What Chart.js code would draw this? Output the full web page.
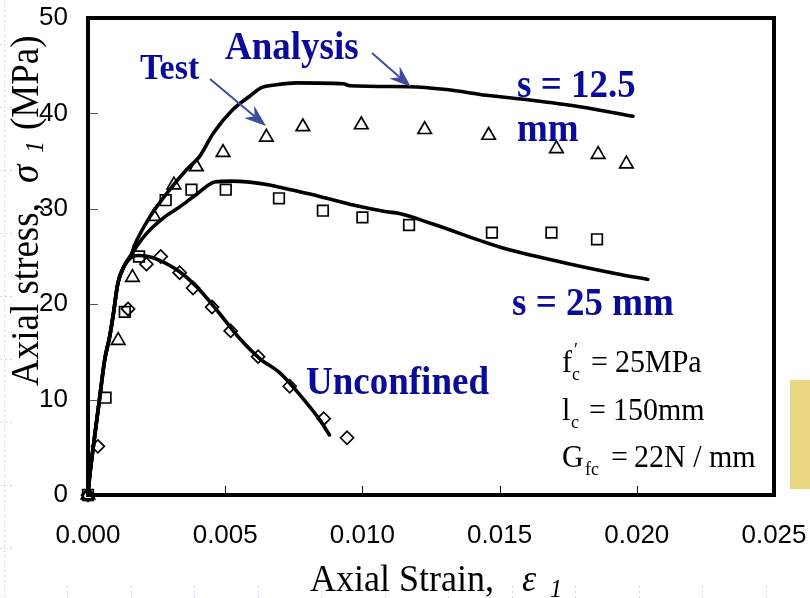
<!DOCTYPE html>
<html>
<head>
<meta charset="utf-8">
<script src="https://cdn.jsdelivr.net/npm/chart.js@4.4.1/dist/chart.umd.min.js"></script>
<style>
  html, body { margin: 0; padding: 0; background: #ffffff; }
  #wrap { position: relative; width: 810px; height: 598px; }
</style>
</head>
<body>
<div id="wrap"><canvas id="c" width="810" height="598"></canvas></div>
<script>
// Axis ticks
const strainTicks = [0, 0.005, 0.010, 0.015, 0.020, 0.025];
const stressTicks = [0, 10, 20, 30, 40, 50];

// Test results, s = 12.5 mm (triangles)
const testStrain125 = [0, 0.0011, 0.00162, 0.0024, 0.00313, 0.00395, 0.00492, 0.0065, 0.00783, 0.00996, 0.01227, 0.0146, 0.01707, 0.01859, 0.01962];
const testStress125 = [0, 16.2, 22.8, 29.2, 32.5, 34.4, 35.9, 37.5, 38.6, 38.8, 38.3, 37.7, 36.3, 35.7, 34.7];

// Test results, s = 25 mm (squares)
const testStrain25 = [0, 0.00064, 0.00134, 0.00186, 0.00283, 0.00377, 0.00502, 0.00696, 0.00856, 0.0100, 0.0117, 0.01472, 0.01689, 0.01855];
const testStress25 = [0, 10.2, 19.2, 25.0, 30.9, 32.0, 32.0, 31.1, 29.8, 29.1, 28.3, 27.5, 27.5, 26.8];

// Test results, unconfined (diamonds)
const testStrainUnc = [0, 0.00036, 0.00146, 0.00213, 0.00265, 0.00334, 0.00383, 0.00452, 0.0052, 0.0062, 0.00735, 0.00859, 0.00944];
const testStressUnc = [0, 5.1, 19.5, 24.2, 25.0, 23.3, 21.7, 19.7, 17.2, 14.5, 11.4, 8.0, 6.0];

// Analysis, s = 12.5 mm
const anaStrain125 = [0, 0.00006, 0.00024, 0.00043, 0.00061, 0.00079, 0.00091, 0.00109, 0.00134, 0.00158, 0.0017, 0.00231, 0.00292, 0.00359, 0.00407, 0.00456, 0.00528, 0.00589, 0.00632, 0.00687, 0.0076, 0.0093, 0.00954, 0.01172, 0.01306, 0.01452, 0.0161, 0.01792, 0.01986];
const anaStress125 = [0, 1.9, 6.1, 10.3, 14.2, 16.6, 18.7, 22.2, 24.1, 25.2, 26.2, 29.4, 31.8, 34.1, 35.5, 37.9, 40.4, 41.8, 42.7, 43.0, 43.2, 43.1, 42.9, 42.8, 42.5, 41.9, 41.4, 40.7, 39.7];

// Analysis, s = 25 mm
const anaStrain25 = [0, 0.00006, 0.00024, 0.00043, 0.00061, 0.00079, 0.00091, 0.00109, 0.00134, 0.00158, 0.00176, 0.00213, 0.00273, 0.00334, 0.00395, 0.00462, 0.0052, 0.00589, 0.00662, 0.00723, 0.00844, 0.00966, 0.01087, 0.01135, 0.01257, 0.015, 0.01743, 0.01926, 0.0204];
const anaStress25 = [0, 1.9, 6.1, 10.3, 14.2, 16.6, 18.7, 22.2, 24.1, 25.2, 26.0, 27.4, 29.0, 30.2, 31.5, 32.8, 32.9, 32.8, 32.5, 32.1, 31.3, 30.4, 29.7, 29.5, 28.4, 26.0, 24.3, 23.2, 22.6];

// Analysis, unconfined
const anaStrainUnc = [0, 0.00006, 0.00024, 0.00043, 0.00061, 0.00079, 0.00091, 0.00109, 0.00134, 0.0018, 0.0022, 0.00261, 0.00334, 0.00407, 0.0048, 0.00553, 0.00626, 0.00699, 0.00772, 0.00844, 0.0088];
const anaStressUnc = [0, 1.9, 6.1, 10.3, 14.2, 16.6, 18.7, 22.2, 24.1, 25.1, 25.0, 24.6, 23.4, 21.5, 19.0, 16.4, 14.3, 12.8, 10.5, 7.9, 6.3];

const pts = (xs, ys) => xs.map((x, i) => ({ x: x, y: ys[i] }));

const SERIF = '"Liberation Serif", "Times New Roman", serif';
const SANS = '"Liberation Sans", Arial, sans-serif';
const NAVY = '#0b0b99';
const ARROW = '#3f4c9c';
const SY = 1.08; // slight vertical stretch of all hand-placed text

function txt(ctx, s, x, y, font, color, align) {
  ctx.save();
  ctx.translate(x, y);
  ctx.scale(1, SY);
  ctx.font = font;
  ctx.fillStyle = color;
  ctx.textAlign = align || 'left';
  ctx.textBaseline = 'alphabetic';
  ctx.fillText(s, 0, 0);
  ctx.restore();
}

function arrow(ctx, x0, y0, x1, y1) {
  const dx = x1 - x0, dy = y1 - y0;
  const L = Math.hypot(dx, dy);
  const ux = dx / L, uy = dy / L, nx = -uy, ny = ux;
  const hl = 22, hw = 8, notch = 15;
  ctx.save();
  ctx.strokeStyle = ARROW;
  ctx.fillStyle = ARROW;
  ctx.lineWidth = 2;
  ctx.beginPath();
  ctx.moveTo(x0, y0);
  ctx.lineTo(x1 - ux * notch, y1 - uy * notch);
  ctx.stroke();
  ctx.beginPath();
  ctx.moveTo(x1, y1);
  ctx.lineTo(x1 - ux * hl + nx * hw, y1 - uy * hl + ny * hw);
  ctx.lineTo(x1 - ux * notch, y1 - uy * notch);
  ctx.lineTo(x1 - ux * hl - nx * hw, y1 - uy * hl - ny * hw);
  ctx.closePath();
  ctx.fill();
  ctx.restore();
}

// Page backdrop: faint dotted guides and the yellow tab on the right
const backdrop = {
  id: 'backdrop',
  beforeDraw(chart) {
    const ctx = chart.ctx;
    ctx.save();
    ctx.fillStyle = '#ffffff';
    ctx.fillRect(0, 0, chart.width, chart.height);
    ctx.strokeStyle = '#d3d9f3';
    ctx.lineWidth = 1;
    ctx.setLineDash([2, 3]);
    ctx.beginPath();
    ctx.moveTo(4.5, 0); ctx.lineTo(4.5, 598);
    ctx.stroke();
    for (let y = 44; y < 598; y += 63) {
      ctx.beginPath();
      ctx.moveTo(0, y + 0.5); ctx.lineTo(14, y + 0.5);
      ctx.stroke();
    }
    for (let x = 67; x < 800; x += 63.5) {
      ctx.beginPath();
      ctx.moveTo(Math.round(x) + 0.5, 586); ctx.lineTo(Math.round(x) + 0.5, 598);
      ctx.stroke();
    }
    ctx.setLineDash([]);
    ctx.fillStyle = '#e9d683';
    ctx.fillRect(790, 380, 20, 109);
    ctx.restore();
  }
};

// Frame, inward tick marks, axis titles and annotations
const overlay = {
  id: 'overlay',
  afterDraw(chart) {
    const ctx = chart.ctx;
    const a = chart.chartArea;
    const xs = chart.scales.x, ys = chart.scales.y;
    ctx.save();

    // inward ticks
    ctx.lineWidth = 1;
    ctx.strokeStyle = '#000';
    strainTicks.slice(1, -1).forEach(v => {
      const px = Math.round(xs.getPixelForValue(v)) + 0.5;
      ctx.beginPath(); ctx.moveTo(px, a.bottom); ctx.lineTo(px, a.bottom - 9); ctx.stroke();
    });
    ctx.strokeStyle = '#555';
    stressTicks.slice(1, -1).forEach(v => {
      const py = Math.round(ys.getPixelForValue(v)) + 0.5;
      ctx.beginPath(); ctx.moveTo(a.left, py); ctx.lineTo(a.left + 10, py); ctx.stroke();
    });

    // frame
    ctx.strokeStyle = '#000';
    ctx.lineWidth = 4;
    ctx.strokeRect(a.left, a.top, a.right - a.left, a.bottom - a.top);

    // x axis title
    txt(ctx, 'Axial Strain,', 310, 591, '36px ' + SERIF, '#000');
    txt(ctx, 'ε', 522, 591, 'italic 36px ' + SERIF, '#000');
    txt(ctx, '1', 550, 597, 'italic 24px ' + SERIF, '#000');

    // y axis title (rotated)
    ctx.save();
    ctx.translate(38, 386);
    ctx.rotate(-Math.PI / 2);
    ctx.scale(1, 1.06);
    ctx.fillStyle = '#000';
    ctx.textBaseline = 'alphabetic';
    ctx.font = '37px ' + SERIF;
    ctx.fillText('Axial stress,', 0, 0);
    ctx.font = 'italic 37px ' + SERIF;
    ctx.fillText('σ', 203, 0);
    ctx.font = 'italic 24px ' + SERIF;
    ctx.fillText('1', 233, 5);
    ctx.font = '37px ' + SERIF;
    ctx.fillText('(MPa)', 256, 0);
    ctx.restore();

    // annotations
    txt(ctx, 'Test', 140, 79, 'bold 34px ' + SERIF, NAVY);
    txt(ctx, 'Analysis', 225, 59, 'bold 37px ' + SERIF, NAVY);
    txt(ctx, 's = 12.5', 517, 97, 'bold 37px ' + SERIF, NAVY);
    txt(ctx, 'mm', 517, 141, 'bold 37px ' + SERIF, NAVY);
    txt(ctx, 's = 25 mm', 512, 315, 'bold 37px ' + SERIF, NAVY);
    txt(ctx, 'Unconfined', 306, 394, 'bold 37px ' + SERIF, NAVY);

    arrow(ctx, 210, 79, 266, 126);
    arrow(ctx, 372, 53, 411, 87);

    // material parameters
    const F = '30px ' + SERIF, Fs = '18px ' + SERIF;
    txt(ctx, 'f', 562, 372, F, '#000');
    txt(ctx, '′', 574, 356, Fs, '#000');
    txt(ctx, 'c', 572, 380, Fs, '#000');
    txt(ctx, '=', 591, 372, F, '#000');
    txt(ctx, '25MPa', 615, 372, F, '#000');

    txt(ctx, 'l', 562, 420, F, '#000');
    txt(ctx, 'c', 571, 428, Fs, '#000');
    txt(ctx, '=', 589, 420, F, '#000');
    txt(ctx, '150mm', 613, 420, F, '#000');

    txt(ctx, 'G', 562, 467, F, '#000');
    txt(ctx, 'fc', 585, 475, Fs, '#000');
    txt(ctx, '=', 611, 467, F, '#000');
    txt(ctx, '22N / mm', 634, 467, F, '#000');

    ctx.restore();
  }
};

const lineDs = (data) => ({
  data: data, showLine: true, borderColor: '#000', borderWidth: 3.6,
  pointRadius: 0, pointHoverRadius: 0, cubicInterpolationMode: 'monotone', fill: false,
  borderJoinStyle: 'round', borderCapStyle: 'round'
});
const markDs = (data, style, r) => ({
  data: data, showLine: false, pointStyle: style, pointRadius: r,
  pointBorderColor: '#000', pointBackgroundColor: 'rgba(0,0,0,0)', pointBorderWidth: 1.7, clip: false
});

new Chart(document.getElementById('c'), {
  type: 'scatter',
  data: {
    datasets: [
      lineDs(pts(anaStrain125, anaStress125)),
      lineDs(pts(anaStrain25, anaStress25)),
      lineDs(pts(anaStrainUnc, anaStressUnc)),
      markDs(pts(testStrain125, testStress125), 'triangle', 7.8),
      markDs(pts(testStrain25, testStress25), 'rect', 7.5),
      markDs(pts(testStrainUnc, testStressUnc), 'rectRot', 6.5)
    ]
  },
  options: {
    responsive: false,
    animation: false,
    devicePixelRatio: 1,
    layout: { autoPadding: false, padding: { top: 18, right: 36, left: 0, bottom: 0 } },
    plugins: { legend: { display: false }, tooltip: { enabled: false }, title: { display: false } },
    scales: {
      x: {
        type: 'linear', min: strainTicks[0], max: strainTicks[strainTicks.length - 1],
        afterBuildTicks: s => { s.ticks = strainTicks.map(v => ({ value: v })); },
        afterFit: s => { s.height = 103; s.paddingLeft = 0; s.paddingRight = 0; s.paddingTop = 0; s.paddingBottom = 0; },
        grid: { display: false, drawTicks: false },
        border: { display: false },
        ticks: {
          padding: 25, color: '#000', maxRotation: 0, autoSkip: false,
          font: { family: SANS, size: 26 },
          callback: v => Number(v).toFixed(3)
        }
      },
      y: {
        type: 'linear', min: stressTicks[0], max: stressTicks[stressTicks.length - 1],
        afterBuildTicks: s => { s.ticks = stressTicks.map(v => ({ value: v })); },
        afterFit: s => { s.width = 88; s.paddingLeft = 0; s.paddingRight = 0; s.paddingTop = 0; s.paddingBottom = 0; },
        grid: { display: false, drawTicks: false },
        border: { display: false },
        ticks: {
          padding: 20, color: '#000',
          font: { family: SANS, size: 26 },
          callback: v => String(v)
        }
      }
    }
  },
  plugins: [backdrop, overlay]
});
</script>
</body>
</html>
